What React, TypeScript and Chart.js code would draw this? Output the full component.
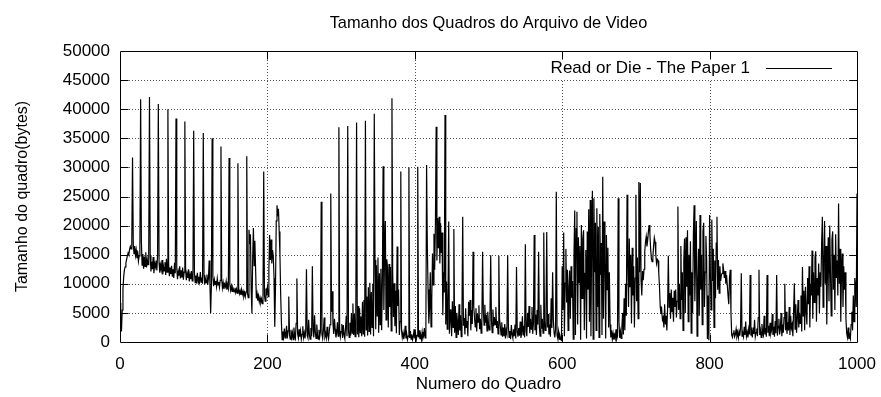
import React, { useEffect, useRef } from "react";
import { Chart, registerables } from "chart.js";

Chart.register(...registerables);

const chartTitle = "Tamanho dos Quadros do Arquivo de Video";
const xAxisTitle = "Numero do Quadro";
const yAxisTitle = "Tamanho do quadro(bytes)";
const seriesLabel = "Read or Die - The Paper 1";

const xTickValues = [0, 200, 400, 600, 800, 1000];
const yTickValues = [0, 5000, 10000, 15000, 20000, 25000, 30000, 35000, 40000, 45000, 50000];

// Frame sizes, in thousands of bytes, one value per frame.
const sizesK_000_199 = [
  6.7, 3.2, 1.8, 5.5, 9.0, 11.2, 12.4, 12.9, 13.6, 14.2,
  14.8, 15.3, 15.0, 15.9, 16.4, 16.0, 17.2, 31.7, 16.8, 15.2,
  16.5, 14.9, 15.8, 14.4, 15.6, 13.9, 14.8, 16.2, 41.7, 17.3,
  13.2, 15.1, 12.6, 14.7, 13.0, 15.4, 12.8, 14.2, 13.3, 16.0,
  42.1, 14.9, 12.1, 13.8, 12.5, 14.6, 11.8, 13.5, 12.9, 14.0,
  12.3, 15.0, 40.9, 13.6, 11.9, 13.2, 12.4, 14.1, 11.6, 13.0,
  12.2, 13.7, 11.5, 14.3, 12.0, 40.0, 13.4, 11.3, 12.8, 11.7,
  13.1, 11.2, 12.5, 11.0, 13.6, 11.8, 38.4, 12.7, 10.8, 12.1,
  11.4, 13.0, 10.9, 12.3, 11.1, 12.8, 10.7, 12.0, 37.9, 12.4,
  10.6, 11.8, 11.0, 12.5, 10.4, 11.6, 10.8, 12.2, 10.5, 11.3,
  36.3, 11.9, 10.2, 11.4, 10.6, 11.9, 10.1, 11.2, 10.4, 12.0,
  10.3, 11.1, 10.0, 35.9, 11.5, 9.9, 10.8, 10.2, 11.6, 9.8,
  10.9, 14.0, 10.1, 5.0, 9.7, 35.0, 11.2, 9.6, 10.7, 9.9,
  10.5, 9.5, 10.9, 9.8, 10.3, 9.4, 10.6, 33.6, 10.8, 9.3,
  10.2, 9.1, 9.9, 9.5, 10.4, 9.0, 9.7, 9.2, 31.6, 10.0,
  8.9, 9.6, 8.7, 9.4, 9.0, 8.6, 9.3, 8.5, 9.1, 8.4,
  30.7, 9.2, 8.3, 8.8, 8.1, 9.0, 8.2, 8.7, 7.9, 8.5,
  7.8, 8.6, 31.9, 8.4, 7.6, 19.3, 16.8, 18.5, 9.0, 4.9,
  14.2, 19.6, 13.1, 17.4, 12.5, 7.5, 8.3, 7.1, 7.9, 6.9,
  7.6, 6.8, 7.4, 6.6, 7.2, 29.3, 8.1, 7.0, 9.2, 8.5,
];

const sizesK_200_399 = [
  9.4, 7.8, 12.5, 18.4, 14.1, 17.6, 13.5, 15.8, 14.7, 11.0,
  2.6, 9.5, 20.8, 23.5, 21.6, 22.9, 19.0, 15.0, 8.2, 3.4,
  0.4, 1.8, 0.9, 2.3, 0.7, 1.5, 2.8, 0.6, 1.9, 7.8,
  1.2, 0.5, 2.1, 0.8, 1.6, 0.4, 2.5, 1.0, 0.6, 3.2,
  10.9, 1.4, 0.7, 2.2, 0.9, 1.9, 0.5, 1.3, 2.7, 0.8,
  1.6, 0.6, 2.0, 12.5, 1.1, 0.7, 3.8, 1.2, 0.5, 2.4,
  1.0, 13.0, 2.2, 0.8, 4.6, 1.7, 0.6, 3.0, 1.2, 0.5,
  2.1, 0.9, 1.8, 24.1, 1.3, 0.6, 2.0, 4.2, 0.9, 1.5,
  0.7, 2.6, 1.1, 0.5, 1.9, 3.0, 25.5, 5.2, 8.7, 3.1,
  1.4, 4.0, 2.2, 0.8, 1.5, 3.4, 1.0, 36.9, 2.3, 0.9,
  1.8, 3.1, 0.7, 2.9, 1.2, 0.6, 2.4, 4.5, 1.0, 37.1,
  2.0, 0.8, 3.3, 1.1, 5.0, 1.5, 6.6, 1.2, 4.8, 0.9,
  5.5, 37.7, 1.3, 6.2, 0.8, 5.8, 1.6, 4.4, 1.0, 6.9,
  1.4, 7.2, 0.9, 38.0, 2.1, 7.8, 1.1, 9.4, 1.8, 10.2,
  1.3, 8.6, 2.5, 10.0, 1.0, 39.2, 14.1, 2.2, 13.2, 4.5,
  14.5, 1.6, 11.8, 3.0, 12.6, 2.0, 10.4, 30.2, 5.5, 15.3,
  20.8, 3.8, 14.2, 12.7, 2.5, 13.4, 6.0, 12.9, 1.9, 41.9,
  12.0, 4.3, 10.1, 2.7, 8.8, 1.5, 16.4, 6.2, 9.0, 1.2,
  3.5, 29.3, 2.0, 0.8, 1.6, 0.5, 1.2, 2.8, 0.6, 1.4,
  0.4, 1.0, 30.0, 0.7, 1.9, 0.5, 1.3, 0.4, 0.9, 2.2,
];

const sizesK_400_599 = [
  0.6, 1.5, 0.4, 1.1, 30.1, 0.8, 2.0, 0.5, 1.2, 0.4,
  1.7, 0.6, 1.0, 2.4, 0.7, 1.3, 30.4, 16.4, 9.0, 3.2,
  5.8, 12.0, 2.6, 7.2, 15.2, 9.8, 18.6, 12.4, 20.5, 37.0,
  14.0, 21.3, 16.1, 21.5, 13.5, 20.4, 15.3, 18.8, 4.6, 12.0,
  8.5, 39.0, 3.0, 10.4, 2.2, 6.8, 20.7, 1.4, 5.6, 3.9,
  1.0, 7.0, 2.5, 19.4, 1.6, 6.2, 0.8, 5.0, 3.2, 1.2,
  6.5, 2.0, 4.6, 0.9, 5.4, 21.5, 2.8, 4.1, 1.3, 5.8,
  2.4, 3.6, 1.0, 6.9, 4.5, 7.2, 2.0, 5.5, 3.1, 15.5,
  6.0, 4.2, 2.6, 5.8, 1.8, 4.9, 3.4, 6.3, 2.2, 4.0,
  1.5, 3.7, 15.5, 5.1, 2.9, 6.4, 3.3, 4.7, 1.9, 5.2,
  3.0, 2.1, 4.4, 14.9, 3.8, 1.6, 5.6, 2.7, 4.3, 3.0,
  6.0, 2.4, 3.6, 1.4, 14.8, 4.0, 2.8, 1.2, 3.4, 0.9,
  2.5, 1.0, 3.1, 0.6, 2.0, 1.4, 14.9, 2.6, 0.8, 1.9,
  0.5, 2.9, 1.3, 0.7, 2.2, 1.0, 3.0, 0.6, 12.9, 1.8,
  0.9, 2.4, 1.1, 3.5, 0.7, 1.6, 4.4, 1.2, 2.8, 0.8,
  16.8, 2.0, 1.0, 5.0, 2.6, 6.2, 1.5, 4.0, 2.2, 6.0,
  1.4, 3.3, 18.4, 2.0, 4.7, 1.2, 5.5, 3.0, 15.5, 2.6,
  1.0, 6.4, 2.3, 4.0, 1.5, 18.8, 3.6, 2.0, 5.2, 18.9,
  2.5, 4.8, 1.3, 3.0, 0.9, 7.5, 2.4, 12.0, 3.8, 1.6,
  0.8, 2.2, 25.8, 1.2, 0.6, 1.8, 0.5, 1.0, 0.4, 0.3,
];

const sizesK_600_799 = [
  13.0, 5.5, 18.8, 1.0, 10.1, 16.0, 6.8, 12.4, 2.0, 9.5,
  12.3, 4.0, 13.0, 7.6, 10.5, 0.5, 15.0, 22.6, 1.2, 19.5,
  22.4, 3.0, 18.0, 10.2, 16.5, 0.4, 20.1, 7.5, 17.8, 19.2,
  2.0, 11.8, 15.8, 0.6, 19.0, 9.0, 22.8, 3.5, 24.4, 1.0,
  18.5, 26.0, 0.5, 24.7, 12.0, 20.5, 2.0, 23.0, 6.0, 19.8,
  0.8, 22.0, 11.5, 17.0, 1.2, 28.4, 4.0, 20.7, 14.0, 0.6,
  18.4, 9.0, 16.2, 2.5, 12.0, 3.0, 0.8, 2.0, 0.5, 1.5,
  0.4, 1.2, 0.6, 2.2, 0.5, 1.0, 24.7, 3.5, 0.7, 1.8,
  0.6, 2.6, 5.0, 1.3, 7.5, 2.0, 10.0, 4.5, 25.3, 13.5,
  6.0, 17.8, 9.5, 15.0, 3.2, 16.2, 8.0, 13.0, 2.5, 11.0,
  25.3, 7.0, 14.5, 4.0, 27.5, 12.0, 27.3, 10.6, 8.0, 12.2,
  10.6, 12.5, 15.5, 17.2, 18.1, 16.4, 17.5, 19.0, 20.1, 18.6,
  16.0, 14.3, 13.8, 14.6, 16.5, 17.9, 17.2, 15.0, 13.5, 14.2,
  14.0, 12.0, 9.5, 6.1, 4.8, 5.5, 3.8, 4.2, 2.5, 6.5,
  3.0, 4.5, 2.0, 5.8, 14.8, 6.0, 8.4, 4.0, 9.0, 5.2,
  7.6, 3.5, 8.8, 6.0, 9.0, 4.2, 7.0, 23.3, 5.5, 10.0,
  4.0, 16.5, 7.2, 12.0, 2.0, 14.0, 17.8, 5.0, 18.0, 9.5,
  19.2, 3.5, 15.0, 8.0, 17.3, 1.5, 12.0, 5.0, 18.5, 23.5,
  7.0, 14.5, 20.8, 1.0, 10.0, 16.0, 4.5, 21.8, 9.0, 15.0,
  3.0, 19.0, 20.5, 6.0, 12.0, 18.2, 14.0, 0.5, 8.0, 0.3,
];

const sizesK_800_1000 = [
  21.8, 12.0, 5.5, 21.0, 10.5, 16.0, 2.5, 14.0, 7.5, 17.0,
  21.5, 9.0, 14.1, 8.4, 13.0, 10.5, 11.5, 11.8, 13.5, 12.4,
  11.0, 12.2, 10.0, 11.5, 9.8, 8.0, 6.5, 11.0, 12.4, 5.0,
  1.2, 0.8, 1.5, 2.0, 0.9, 1.3, 2.2, 1.0, 1.6, 0.7,
  1.8, 1.1, 2.4, 11.8, 1.0, 1.5, 0.9, 2.6, 1.2, 3.5,
  1.0, 1.7, 0.8, 2.2, 1.3, 11.5, 1.1, 1.9, 0.8, 2.5,
  1.4, 3.8, 0.9, 1.6, 2.3, 1.0, 4.2, 12.4, 1.2, 2.0,
  0.8, 3.1, 1.5, 1.1, 4.5, 1.3, 2.4, 0.9, 11.5, 1.6,
  2.8, 1.0, 3.3, 1.4, 2.0, 4.8, 1.2, 2.6, 0.9, 3.6,
  1.5, 11.5, 1.1, 2.7, 4.0, 1.3, 2.2, 5.0, 1.0, 3.0,
  1.6, 4.2, 10.0, 2.0, 5.2, 1.4, 3.4, 2.0, 6.0, 1.2,
  4.5, 2.4, 3.0, 1.0, 5.5, 10.1, 2.2, 6.5, 1.6, 4.0,
  7.2, 2.5, 5.0, 3.2, 8.0, 1.8, 12.9, 4.5, 8.8, 2.0,
  9.5, 5.2, 3.0, 11.0, 6.5, 13.0, 2.5, 10.0, 8.0, 15.7,
  4.0, 12.0, 6.8, 14.5, 15.6, 3.5, 11.0, 8.0, 13.5, 5.0,
  12.0, 9.5, 17.0, 21.5, 6.0, 14.0, 20.8, 10.0, 16.5, 3.0,
  13.0, 18.0, 7.0, 20.0, 12.0, 4.5, 17.5, 19.0, 9.0, 15.0,
  5.5, 18.5, 11.0, 14.0, 8.0, 23.8, 10.0, 16.0, 3.5, 12.0,
  15.2, 6.0, 13.0, 9.0, 12.0, 4.0, 1.5, 0.8, 2.5, 0.5,
  1.2, 0.6, 3.0, 5.2, 2.0, 8.0, 3.5, 11.0, 9.5, 6.0,
  25.5,
];

const FONT_FAMILY = '"Liberation Sans", Arial, Helvetica, sans-serif';

export default function App() {
  const canvasRef = useRef<HTMLCanvasElement | null>(null);

  useEffect(() => {
    const canvas = canvasRef.current;
    if (!canvas) return;

    const sizesK = [
      ...sizesK_000_199,
      ...sizesK_200_399,
      ...sizesK_400_599,
      ...sizesK_600_799,
      ...sizesK_800_1000,
    ];
    const points = sizesK.map((k, frame) => ({ x: frame, y: Math.round(k * 1000) }));

    const gnuplotDecor = {
      id: "gnuplotDecor",
      beforeDatasetsDraw(chart: any) {
        const { ctx, chartArea: a } = chart;
        const xs = chart.scales.x;
        const ys = chart.scales.y;
        ctx.save();
        ctx.strokeStyle = "#555555";
        ctx.lineWidth = 1;
        ctx.setLineDash([1, 2]);
        ctx.beginPath();
        for (const v of yTickValues) {
          if (v === ys.min || v === ys.max) continue;
          const py = Math.round(ys.getPixelForValue(v)) + 0.5;
          ctx.moveTo(a.left, py);
          ctx.lineTo(a.right, py);
        }
        for (const v of xTickValues) {
          if (v === xs.min || v === xs.max) continue;
          const px = Math.round(xs.getPixelForValue(v)) + 0.5;
          ctx.moveTo(px, a.top);
          ctx.lineTo(px, a.bottom);
        }
        ctx.stroke();
        ctx.setLineDash([]);
        // clear the key area like gnuplot does
        ctx.fillStyle = "#ffffff";
        ctx.fillRect(545, a.top + 5, a.right - 8 - 545, 23);
        ctx.restore();
      },
      afterDatasetsDraw(chart: any) {
        const { ctx, chartArea: a } = chart;
        const xs = chart.scales.x;
        const ys = chart.scales.y;
        const L = Math.round(a.left) + 0.5;
        const R = Math.round(a.right) + 0.5;
        const T = Math.round(a.top) + 0.5;
        const B = Math.round(a.bottom) + 0.5;
        const tick = 8;
        ctx.save();
        ctx.strokeStyle = "#000";
        ctx.lineWidth = 1;
        ctx.beginPath();
        ctx.rect(L, T, R - L, B - T);
        for (const v of yTickValues) {
          if (v === ys.min || v === ys.max) continue;
          const py = Math.round(ys.getPixelForValue(v)) + 0.5;
          ctx.moveTo(L, py);
          ctx.lineTo(L + tick, py);
          ctx.moveTo(R, py);
          ctx.lineTo(R - tick, py);
        }
        for (const v of xTickValues) {
          if (v === xs.min || v === xs.max) continue;
          const px = Math.round(xs.getPixelForValue(v)) + 0.5;
          ctx.moveTo(px, B);
          ctx.lineTo(px, B - tick);
          ctx.moveTo(px, T);
          ctx.lineTo(px, T + tick);
        }
        ctx.stroke();

        ctx.fillStyle = "#000";

        // key
        const keyY = a.top + 17;
        ctx.font = `17px ${FONT_FAMILY}`;
        ctx.textAlign = "right";
        ctx.textBaseline = "middle";
        ctx.fillText(seriesLabel, a.right - 107, keyY);
        ctx.beginPath();
        ctx.moveTo(a.right - 91, Math.round(keyY) + 0.5);
        ctx.lineTo(a.right - 25, Math.round(keyY) + 0.5);
        ctx.stroke();

        const cx = (a.left + a.right) / 2;
        // title
        ctx.textAlign = "center";
        ctx.font = `16.4px ${FONT_FAMILY}`;
        ctx.fillText(chartTitle, cx, 23);
        // x axis title
        ctx.font = `17px ${FONT_FAMILY}`;
        ctx.fillText(xAxisTitle, cx, 384);
        // y axis title
        ctx.font = `16px ${FONT_FAMILY}`;
        ctx.translate(23, (a.top + a.bottom) / 2);
        ctx.rotate(-Math.PI / 2);
        ctx.fillText(yAxisTitle, 0, 0);
        ctx.restore();
      },
    };

    const noSidePadding = (scale: any) => {
      scale.paddingLeft = 0;
      scale.paddingRight = 0;
    };

    const chart = new Chart(canvas, {
      type: "line",
      data: {
        datasets: [
          {
            label: seriesLabel,
            data: points,
            borderColor: "#000000",
            borderWidth: 1.2,
            pointRadius: 0,
            tension: 0,
            fill: false,
          },
        ],
      },
      options: {
        responsive: false,
        animation: false,
        events: [],
        layout: { padding: { left: 0, right: 24, top: 51, bottom: 0 } },
        plugins: {
          legend: { display: false },
          title: { display: false },
          tooltip: { enabled: false },
        },
        scales: {
          x: {
            type: "linear",
            min: 0,
            max: 1000,
            afterBuildTicks: (scale: any) => {
              scale.ticks = xTickValues.map((v) => ({ value: v }));
            },
            afterFit: (scale: any) => {
              scale.height = 55;
              noSidePadding(scale);
            },
            grid: { display: false, drawTicks: false },
            border: { display: false },
            ticks: {
              color: "#000",
              padding: 12,
              maxRotation: 0,
              autoSkip: false,
              font: { family: FONT_FAMILY, size: 17 },
              callback: (v: any) => String(v),
            },
          },
          y: {
            type: "linear",
            min: 0,
            max: 50000,
            afterBuildTicks: (scale: any) => {
              scale.ticks = yTickValues.map((v) => ({ value: v }));
            },
            afterFit: (scale: any) => {
              scale.width = 120;
            },
            grid: { display: false, drawTicks: false },
            border: { display: false },
            ticks: {
              color: "#000",
              padding: 10,
              autoSkip: false,
              font: { family: FONT_FAMILY, size: 17 },
              callback: (v: any) => String(v),
            },
          },
        },
      },
      plugins: [gnuplotDecor],
    });

    return () => chart.destroy();
  }, []);

  return (
    <div
      style={{
        position: "fixed",
        left: 0,
        top: 0,
        width: 881,
        height: 397,
        background: "#ffffff",
      }}
    >
      <canvas ref={canvasRef} width={881} height={397} style={{ display: "block" }} />
    </div>
  );
}
